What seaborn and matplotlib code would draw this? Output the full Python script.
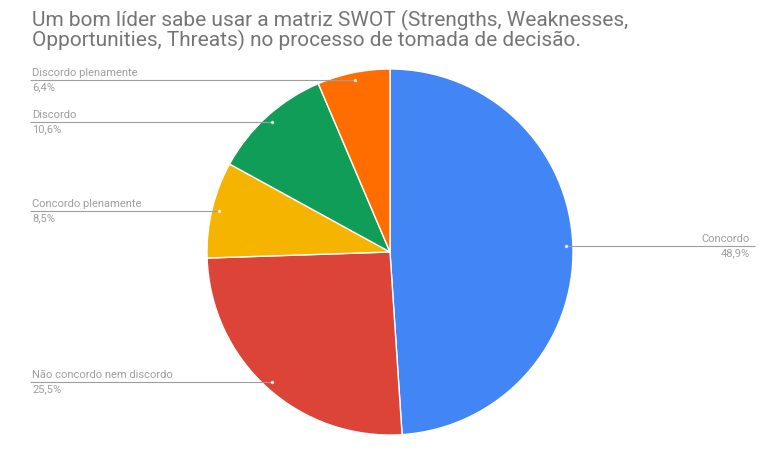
import numpy as np
import matplotlib
matplotlib.use("Agg")
import matplotlib.pyplot as plt
import seaborn as sns

# Survey answers (share of responses, %)
categories = ["Concordo", "Não concordo nem discordo", "Concordo plenamente",
              "Discordo", "Discordo plenamente"]
values = [48.9, 25.5, 8.5, 10.6, 6.4]
colors = ["#4285F4", "#DB4437", "#F4B400", "#0F9D58", "#FF6D01"]
title = ("Um bom líder sabe usar a matriz SWOT (Strengths, Weaknesses,\n"
         "Opportunities, Threats) no processo de tomada de decisão.")

sns.set_theme(style="white")
plt.rcParams["font.family"] = ["Roboto", "DejaVu Sans"]

W, H = 761, 450
fig = plt.figure(figsize=(W / 100, H / 100), dpi=100)
ax = fig.add_axes([0, 0, 1, 1])

cx, cy, R = 390, H - 252, 183
wedges, _ = ax.pie(values, colors=sns.color_palette(colors), startangle=90,
                   counterclock=False, center=(cx, cy), radius=R, frame=True,
                   wedgeprops=dict(linewidth=1, edgecolor="white"))
ax.set_xlim(0, W)
ax.set_ylim(0, H)
ax.set_aspect("equal")
ax.set_axis_off()

label_color = "#9E9E9E"
line_color = "#9E9E9E"
total = sum(values)
cum = 0.0
for name, v in zip(categories, values):
    mid = (cum + v / 2) / total * 360.0
    cum += v
    ang = np.deg2rad(mid)
    px = cx + 0.96 * R * np.sin(ang)
    py = cy + 0.96 * R * np.cos(ang)
    pct = f"{v:.1f}%".replace(".", ",")
    if np.sin(ang) >= 0:
        x0, x1, tx, ha = px, 755, 750, "right"
    else:
        x0, x1, tx, ha = 30, px, 32, "left"
    ax.plot([x0, x1], [py, py], color=line_color, lw=0.8, solid_capstyle="butt")
    ax.plot([px], [py], marker="o", ms=1.5, color="white", alpha=0.7)
    ax.text(tx, py + 2, name, ha=ha, va="bottom", fontsize=8, color=label_color)
    ax.text(tx, py - 2, pct, ha=ha, va="top", fontsize=8, color=label_color)

fig.text(32 / W, 1 - 10 / H, title, ha="left", va="top", fontsize=15,
         color="#757575", linespacing=0.9)

fig.savefig("out.png", dpi=100, facecolor="white")
